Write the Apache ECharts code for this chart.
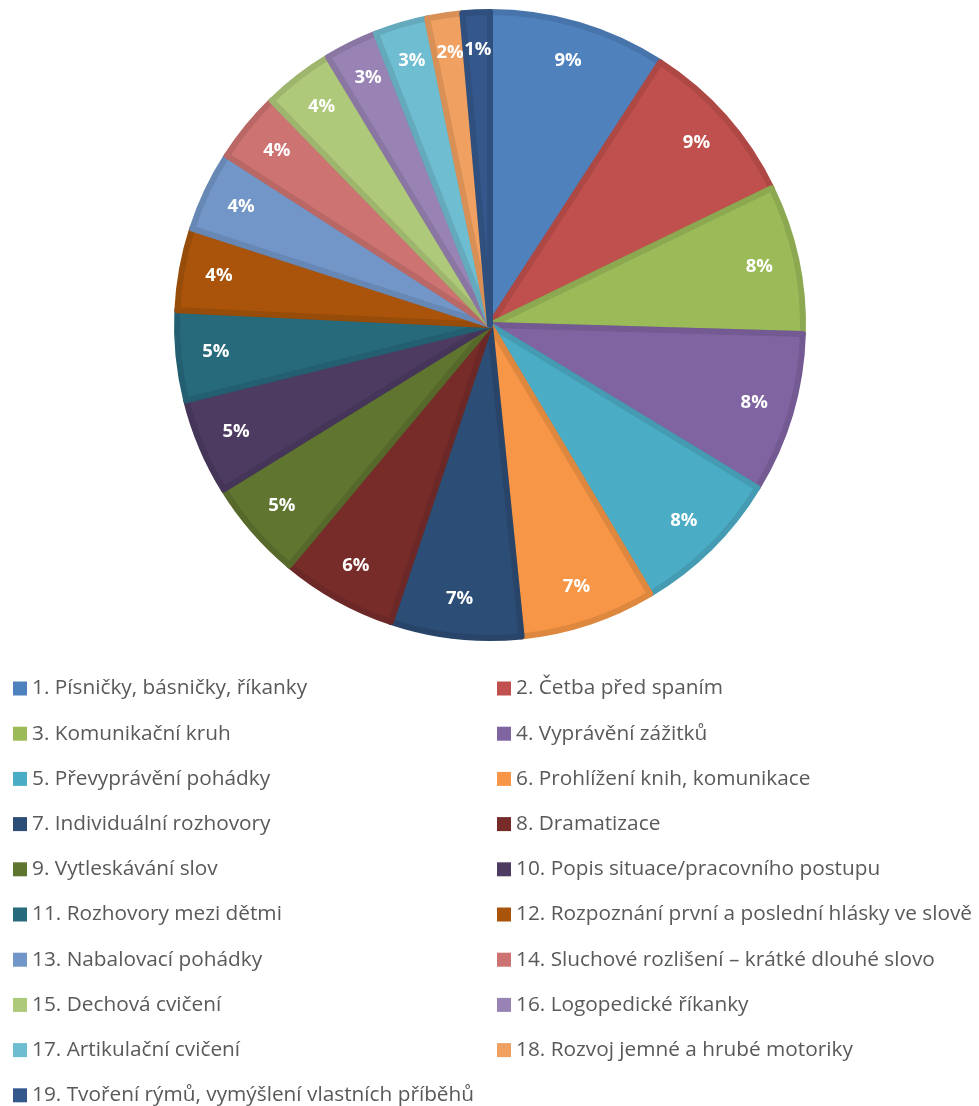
<!DOCTYPE html>
<html>
<head>
<meta charset="utf-8">
<script src="https://cdn.jsdelivr.net/npm/echarts@6/dist/echarts.min.js"></script>
<style>html,body{margin:0;padding:0;background:#fff}#c{width:979px;height:1106px}</style>
</head>
<body>
<div id="c"></div>
<script>
const categories = [
  "1. Písničky, básničky, říkanky",
  "2. Četba před spaním",
  "3. Komunikační kruh",
  "4. Vyprávění zážitků",
  "5. Převyprávění pohádky",
  "6. Prohlížení knih, komunikace",
  "7. Individuální rozhovory",
  "8. Dramatizace",
  "9. Vytleskávání slov",
  "10. Popis situace/pracovního postupu",
  "11. Rozhovory mezi dětmi",
  "12. Rozpoznání první a poslední hlásky ve slově",
  "13. Nabalovací pohádky",
  "14. Sluchové rozlišení – krátké dlouhé slovo",
  "15. Dechová cvičení",
  "16. Logopedické říkanky",
  "17. Artikulační cvičení",
  "18. Rozvoj jemné a hrubé motoriky",
  "19. Tvoření rýmů, vymýšlení vlastních příběhů"
];
const values = [9.1, 8.6, 7.6, 8.2, 7.7, 6.9, 6.7, 5.9, 5.1, 4.9, 4.6, 4.2, 4.1, 3.6, 3.6, 2.7, 2.7, 1.8, 1.4];
const colors = ["#4F81BD","#C0504D","#9BBB59","#8064A2","#4BACC6","#F79646","#2C4D75","#772C2A","#5F7530","#4D3B62","#276A7C","#A9540A","#7296C8","#CD7371","#AFC97A","#9983B5","#6FBDD1","#F0A060","#34588C"];

function darken(hex, f) {
  const n = parseInt(hex.slice(1), 16);
  const r = Math.round(((n >> 16) & 255) * f), g = Math.round(((n >> 8) & 255) * f), b = Math.round((n & 255) * f);
  return "rgb(" + r + "," + g + "," + b + ")";
}

const pieData = categories.map((name, i) => ({
  name, value: values[i],
  itemStyle: { color: colors[i], borderColor: darken(colors[i], 0.9), borderWidth: 6 }
}));
const labelData = categories.map((name, i) => ({ name, value: values[i] }));

const chart = echarts.init(document.getElementById('c'), null, { renderer: 'canvas' });
const legendBase = {
  orient: 'vertical',
  icon: 'rect',
  itemWidth: 14,
  itemHeight: 14,
  itemGap: 24.2,
  padding: 0,
  top: 678,
  height: 440,
  textStyle: { fontFamily: 'Open Sans', fontSize: 20.8, color: '#595959', lineHeight: 20 },
  itemStyle: { borderWidth: 0 },
  selectedMode: false
};
chart.setOption({
  animation: false,
  backgroundColor: '#fff',
  legend: [
    Object.assign({}, legendBase, { left: 13, data: categories.filter((c, i) => i % 2 === 0) }),
    Object.assign({}, legendBase, { left: 497, data: categories.filter((c, i) => i % 2 === 1) })
  ],
  series: [
    {
      type: 'pie',
      center: [490, 325],
      radius: [0, 313],
      startAngle: 90,
      clockwise: true,
      data: pieData,
      label: { show: false },
      labelLine: { show: false },
      emphasis: { disabled: true }
    },
    {
      type: 'pie',
      center: [490, 325],
      radius: [200, 345],
      startAngle: 90,
      clockwise: true,
      silent: true,
      data: labelData,
      itemStyle: { color: 'rgba(0,0,0,0)', borderWidth: 0 },
      label: {
        show: true, position: 'inside',
        formatter: p => Math.round(p.percent) + '%',
        color: '#fff', fontFamily: 'Open Sans', fontWeight: 'bold', fontSize: 18.5
      },
      labelLayout: { hideOverlap: false },
      labelLine: { show: false },
      emphasis: { disabled: true }
    }
  ]
});
</script>
</body>
</html>
